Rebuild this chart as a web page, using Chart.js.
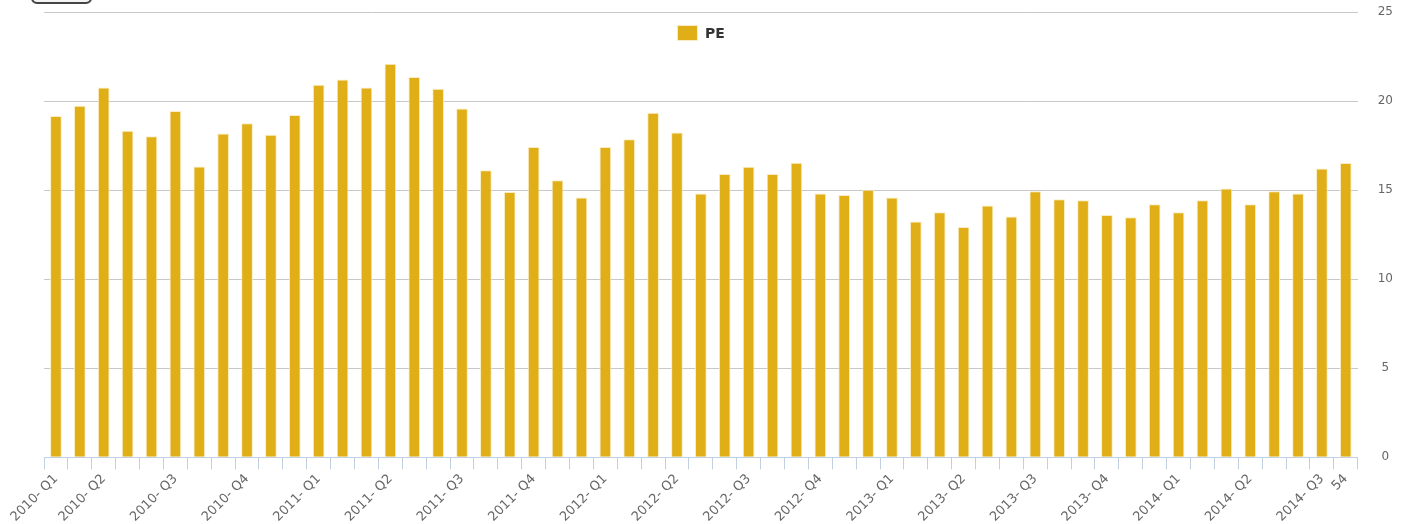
<!DOCTYPE html>
<html>
<head>
<meta charset="utf-8">
<script src="https://cdn.jsdelivr.net/npm/chart.js@4/dist/chart.umd.min.js"></script>
<style>
    html, body { margin: 0; padding: 0; background: #fff; overflow: hidden; }
    #wrap { position: relative; width: 1423px; height: 524px; }
    /* tombol yang terpotong di pojok kiri atas */
    #btn { position: absolute; left: 31px; top: -20px; width: 57px; height: 20px;
           border: 2px solid #444; border-radius: 6px; background: #f4f4f4; }
</style>
</head>
<body>
<div id="wrap">
    <div id="btn"></div>
    <canvas id="peChart" width="1423" height="524"></canvas>
</div>
<script>
// ==========================================
// DATA
// ==========================================
// label sumbu X (kosong = tidak ditampilkan)
const tickLabels = [
    '2010- Q1', '', '2010- Q2', '', '', '2010- Q3', '', '', '2010- Q4', '', '',
    '2011- Q1', '', '', '2011- Q2', '', '', '2011- Q3', '', '', '2011- Q4', '', '',
    '2012- Q1', '', '', '2012- Q2', '', '', '2012- Q3', '', '', '2012- Q4', '', '',
    '2013- Q1', '', '', '2013- Q2', '', '', '2013- Q3', '', '', '2013- Q4', '', '',
    '2014- Q1', '', '', '2014- Q2', '', '', '2014- Q3', '54'
];

const peValues = [
    19.16, 19.74, 20.76, 18.33, 18.03, 19.44, 16.33, 18.18, 18.76, 18.11, 19.21,
    20.92, 21.21, 20.76, 22.10, 21.35, 20.69, 19.58, 16.12, 14.89, 17.42, 15.55,
    14.58, 17.42, 17.86, 19.35, 18.24, 14.81, 15.91, 16.31, 15.91, 16.53, 14.81,
    14.73, 15.02, 14.58, 13.24, 13.75, 12.93, 14.13, 13.52, 14.94, 14.49, 14.43,
    13.60, 13.47, 14.20, 13.75, 14.43, 15.09, 14.20, 14.94, 14.81, 16.21, 16.52
];

const yTicks = [0, 5, 10, 15, 20, 25];

const FONT = "'DejaVu Sans', Verdana, sans-serif";

// legenda mengambang di dalam area grafik (di bawah garis 25)
const floatingLegend = {
    id: 'floatingLegend',
    afterDraw(chart) {
        const c = chart.ctx;
        const ds = chart.data.datasets[0];
        const area = chart.chartArea;
        c.save();
        c.font = `bold 14px ${FONT}`;
        const textW = c.measureText(ds.label).width;
        const boxW = 21, boxH = 16, gap = 7;
        const x = (area.left + area.right) / 2 - (boxW + gap + textW) / 2;
        const y = area.top + 13;
        c.fillStyle = ds.borderColor;
        c.fillRect(x, y, boxW, boxH);
        c.fillStyle = ds.backgroundColor;
        c.fillRect(x + 1, y + 1, boxW - 2, boxH - 2);
        c.fillStyle = '#333';
        c.textBaseline = 'middle';
        c.fillText(ds.label, x + boxW + gap, y + boxH / 2 + 1);
        c.restore();
    }
};

// ==========================================
// RENDER GRAFIK
// ==========================================
function renderChart() {
    const ctx = document.getElementById('peChart').getContext('2d');

    new Chart(ctx, {
        type: 'bar',
        data: {
            labels: tickLabels,
            datasets: [{
                label: 'PE',
                data: peValues,
                backgroundColor: '#E0AE16',
                borderColor: 'rgba(250, 235, 190, 0.9)',
                borderWidth: 1,
                borderSkipped: 'bottom',
                barPercentage: 0.49,
                categoryPercentage: 1.0
            }]
        },
        plugins: [floatingLegend],
        options: {
            responsive: false,
            animation: false,
            layout: { padding: { top: 12, left: 44, right: 30, bottom: -3 } },
            plugins: {
                tooltip: { enabled: false },
                legend: { display: false }
            },
            scales: {
                x: {
                    grid: {
                        display: true,
                        drawOnChartArea: false,
                        drawTicks: true,
                        tickLength: 12,
                        color: '#C0D0E0'
                    },
                    border: { display: true, color: '#C0D0E0', width: 1 },
                    ticks: {
                        autoSkip: false,
                        minRotation: 45,
                        maxRotation: 45,
                        padding: 2,
                        color: '#666',
                        font: { family: FONT, size: 13 }
                    }
                },
                y: {
                    position: 'right',
                    min: yTicks[0],
                    max: yTicks[yTicks.length - 1],
                    afterBuildTicks: axis => { axis.ticks = yTicks.map(v => ({ value: v })); },
                    grid: {
                        drawTicks: true,
                        tickLength: 20,
                        tickColor: 'rgba(0,0,0,0)',
                        color: c => (c.tick && c.tick.value === 0) ? 'rgba(0,0,0,0)' : '#C8C8C8'
                    },
                    border: { display: false },
                    ticks: {
                        padding: 0,
                        crossAlign: 'center',
                        color: '#666',
                        font: { family: FONT, size: 12 }
                    }
                }
            }
        }
    });
}

renderChart();
</script>
</body>
</html>
